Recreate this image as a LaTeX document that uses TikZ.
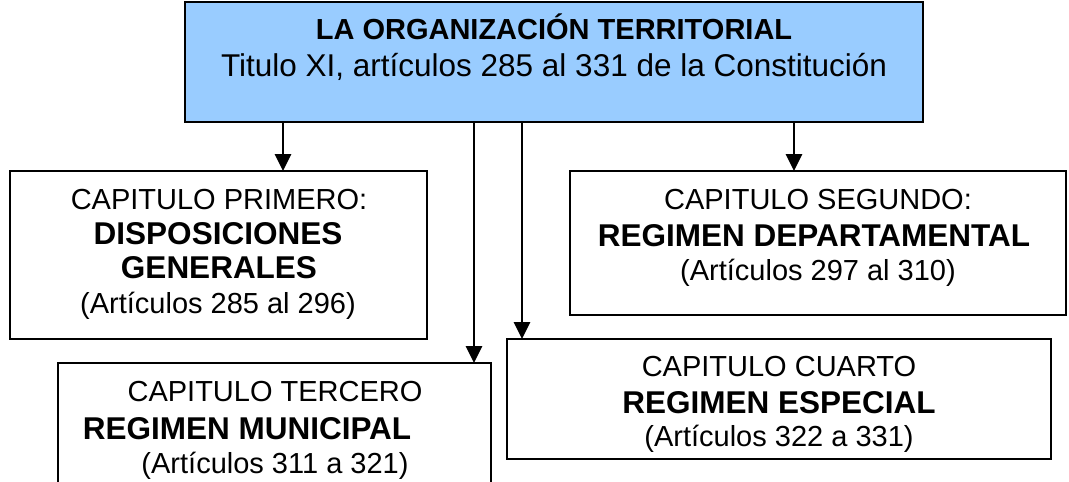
\documentclass[tikz,border=0pt]{standalone}
\usepackage{fontspec}
\setmainfont{Liberation Sans}
\usetikzlibrary{arrows.meta}
\definecolor{topblue}{HTML}{99CCFF}
\tikzset{
  box/.style={draw=black, line width=2.2pt, rectangle, inner sep=0pt, outer sep=0pt, anchor=north west},
  arr/.style={line width=2.8pt, -{Triangle[length=17pt,width=16pt]}},
  txt/.style={anchor=base, inner sep=0pt},
  reg/.style={font=\fontsize{29}{33}\selectfont},
  bld/.style={font=\fontsize{31.5}{35}\selectfont\bfseries},
  treg/.style={font=\fontsize{31.5}{35}\selectfont},
  tbld/.style={font=\fontsize{29}{33}\selectfont\bfseries},
}
\begin{document}
\begin{tikzpicture}[x=1pt,y=-1pt]
\useasboundingbox (0,0) rectangle (1069,482);
\begin{scope}
\clip (0,0) rectangle (1069,482);
% boxes
\node[box, fill=topblue, minimum width=738pt, minimum height=120pt] (top) at (185,2) {};
\node[box, minimum width=417pt, minimum height=168pt] (b1) at (10,171) {};
\node[box, minimum width=496pt, minimum height=144pt] (b2) at (570,171) {};
\node[box, minimum width=433pt, minimum height=140pt] (b3) at (58,363) {};
\node[box, minimum width=544pt, minimum height=120pt] (b4) at (507,339) {};
% texts
\node[txt, tbld] (t1) at (554,39) {LA ORGANIZACIÓN TERRITORIAL};
\node[txt, treg] (t2) at (554,76) {Titulo XI, artículos 285 al 331 de la Constitución};
\node[txt, reg] (p1) at (219,209) {CAPITULO PRIMERO:};
\node[txt, bld] (p2) at (218,244) {DISPOSICIONES};
\node[txt, bld] (p3) at (219,278) {GENERALES};
\node[txt, reg] (p4) at (218,313) {(Artículos 285 al 296)};
\node[txt, reg] (s1) at (818,209) {CAPITULO SEGUNDO:};
\node[txt, bld] (s2) at (814,246) {REGIMEN DEPARTAMENTAL};
\node[txt, reg] (s3) at (818,280) {(Artículos 297 al 310)};
\node[txt, reg] (r1) at (275,401) {CAPITULO TERCERO};
\node[txt, bld] (r2) at (247,439) {REGIMEN MUNICIPAL};
\node[txt, reg] (r3) at (275,473) {(Artículos 311 a 321)};
\node[txt, reg] (c1) at (779,376) {CAPITULO CUARTO};
\node[txt, bld] (c2) at (779,413) {REGIMEN ESPECIAL};
\node[txt, reg] (c3) at (779,446) {(Artículos 322 a 331)};
% arrows
\coordinate (x1) at (283,0);
\coordinate (x2) at (794,0);
\coordinate (x3) at (474,0);
\coordinate (x4) at (522,0);
\draw[arr] (x1 |- top.south) -- (x1 |- b1.north);
\draw[arr] (x2 |- top.south) -- (x2 |- b2.north);
\draw[arr] (x3 |- top.south) -- (x3 |- b3.north);
\draw[arr] (x4 |- top.south) -- (x4 |- b4.north);
\end{scope}
\end{tikzpicture}
\end{document}
